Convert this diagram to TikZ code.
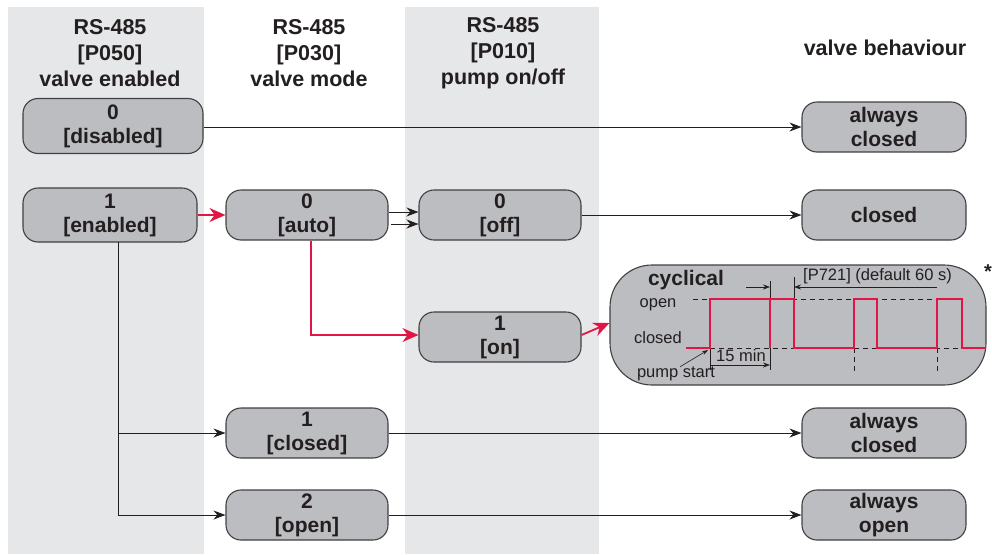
\documentclass[tikz,border=0pt]{standalone}
\usepackage{fontspec}
\setmainfont{Liberation Sans}
\usetikzlibrary{arrows.meta}
\definecolor{band}{RGB}{230,231,232}
\definecolor{boxfill}{RGB}{188,189,192}
\definecolor{boxline}{RGB}{65,64,66}
\definecolor{txt}{RGB}{35,31,32}
\definecolor{sig}{RGB}{225,22,70}
\tikzset{
  box/.style={draw=boxline, line width=1.1pt, fill=boxfill, rounded corners=15pt,
    inner sep=0pt, align=center, text=txt,
    font=\fontsize{21}{24}\selectfont\bfseries},
  head/.style={align=center, text=txt, font=\fontsize{21.5}{26}\selectfont\bfseries},
  arr/.style={draw=txt, line width=0.8pt, -{Stealth[length=12pt,width=9pt]}},
  redarr/.style={draw=sig, line width=1.8pt, -{Stealth[length=16pt,width=14pt]}},
  small/.style={text=txt, font=\fontsize{16.5}{18}\selectfont, inner sep=0pt},
  dashln/.style={draw=txt, line width=0.7pt, dash pattern=on 5pt off 4pt},
  thinln/.style={draw=txt, line width=0.6pt},
}
\begin{document}
\begin{tikzpicture}[x=1pt,y=-1pt]
\useasboundingbox (0,0) rectangle (992,554);
% column bands
\fill[band] (8,7) rectangle (204,554);
\fill[band] (405,7) rectangle (599,554);
% headers
\node[head] (h1) at (110,53) {RS-485\\{[P050]}\\valve enabled};
\node[head] (h2) at (309,53) {RS-485\\{[P030]}\\valve mode};
\node[head] (h3) at (503,53) {RS-485\\{[P010]}\\pump on/off};
\node[head] (h4) at (885,48) {valve behaviour};
% nodes
\node[box, minimum width=180pt, minimum height=55pt] (dis) at (113,126) {0\\{[disabled]}};
\node[box, minimum width=174pt, minimum height=54pt] (en) at (110,215) {1\\{[enabled]}};
\node[box, minimum width=162pt, minimum height=50pt] (auto) at (307,215) {0\\{[auto]}};
\node[box, minimum width=162pt, minimum height=50pt] (off) at (500,215) {0\\{[off]}};
\node[box, minimum width=162pt, minimum height=50pt] (on) at (500,337) {1\\{[on]}};
\node[box, minimum width=162pt, minimum height=50pt] (clo) at (307,433) {1\\{[closed]}};
\node[box, minimum width=162pt, minimum height=50pt] (opn) at (307,515) {2\\{[open]}};
\node[box, minimum width=164pt, minimum height=50pt] (r1) at (884,127) {always\\closed};
\node[box, minimum width=164pt, minimum height=50pt] (r2) at (884,215) {closed};
\node[box, minimum width=164pt, minimum height=50pt] (r3) at (884,433) {always\\closed};
\node[box, minimum width=164pt, minimum height=50pt] (r4) at (884,515) {always\\open};
\node[box, rounded corners=42pt, minimum width=376pt, minimum height=120pt] (cyc) at (798,325) {};
% connectors
\draw[arr] (dis.east |- r1.west) -- (r1.west);
\draw[redarr] (en.east) -- (auto.west);
\draw[arr] ([yshift=3pt]auto.east) -- ([yshift=3pt]off.west);
\draw[arr] ([xshift=2pt,yshift=-9pt]auto.east) -- ([yshift=-9pt]off.west);
\draw[arr] (off.east) -- (r2.west);
\draw[redarr] ([xshift=4pt]auto.south) |- ([yshift=2pt]on.west);
\draw[redarr] ([yshift=2pt]on.east) -- ([yshift=2pt]cyc.west);
\coordinate (vtop) at (118,242);
\draw[arr] (vtop) |- (clo.west);
\draw[arr] (vtop) |- (opn.west);
\draw[arr] (clo.east) -- (r3.west);
\draw[arr] (opn.east) -- (r4.west);
% cyclical content
\node[text=txt, font=\fontsize{21}{24}\selectfont\bfseries, inner sep=0pt] (cyct) at (686,280) {cyclical};
\node[small] (lopen) at (658,305) {open};
\node[small] (lclosed) at (658,338) {closed};
\node[small] (lpump) at (676,374) {pump start};
\node[small, anchor=west] (lp721) at (803,276) {[P721] (default 60 s)};
\node[text=txt, font=\fontsize{20}{20}\selectfont\bfseries, inner sep=0pt] (star) at (988,272) {*};
% dashed levels
\draw[dashln] (693,299) -- (962,299);
\draw[dashln] (710,348) -- (974,348);
\draw[dashln] (854,348) -- (854,373);
\draw[dashln] (937,348) -- (937,373);
% dimension 15 min
\draw[thinln] (710,348) -- (710,370);
\draw[thinln] (770,348) -- (770,370);
\draw[thinln, -{Stealth[length=7pt,width=5pt]}] (710,365) -- (770,365);
\node[small] (l15) at (741,356) {15 min};
% pump start pointer
\draw[thinln, -{Stealth[length=6pt,width=4pt]}] ([xshift=4pt]lpump.north) -- (708,350);
% P721 dimension
\draw[thinln] (770,281) -- (770,298);
\draw[thinln] (794,277) -- (794,300);
\draw[thinln, -{Stealth[length=7pt,width=5pt]}] (746,287) -- (770,287);
\draw[thinln, -{Stealth[length=7pt,width=5pt]}] (937,287) -- (794,287);
% signal
\draw[sig, line width=1.8pt, line join=miter]
  (686,348) -- (710,348) -- (710,299) -- (794,299) -- (794,348) -- (854,348)
  -- (854,299) -- (877,299) -- (877,348) -- (937,348) -- (937,299) -- (962,299)
  -- (962,348) -- (986,348);
\draw[sig, line width=1.8pt] (770,299) -- (770,348);
\end{tikzpicture}
\end{document}
